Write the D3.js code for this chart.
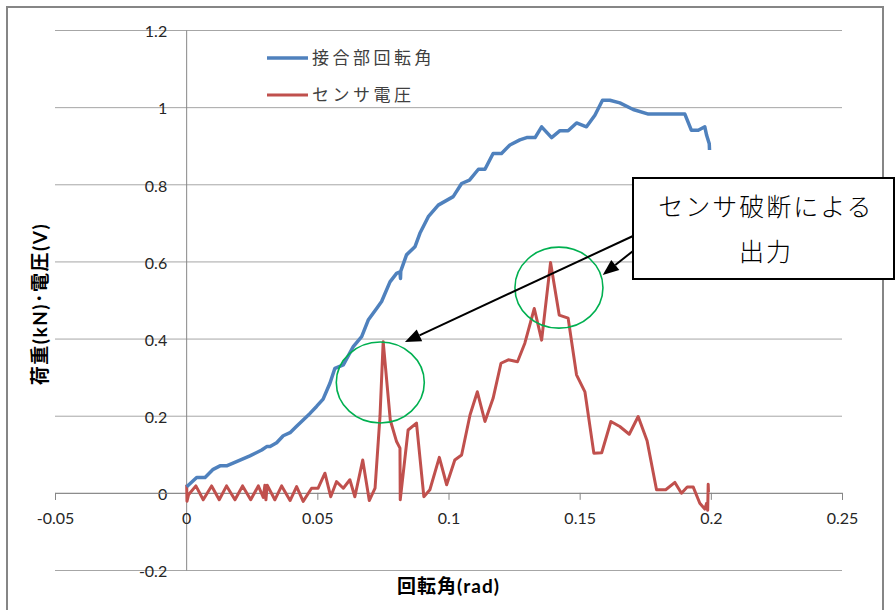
<!DOCTYPE html>
<html>
<head>
<meta charset="utf-8">
<script src="https://cdn.jsdelivr.net/npm/d3@7"></script>
<style>
  html, body { margin: 0; padding: 0; background: #fff; }
  svg { display: block; }
</style>
</head>
<body>
<svg id="chart" width="896" height="610"></svg>
<script>
// 接合部回転角 (blue) : rotation angle (rad) vs value
const jointX = [0.0002, 0.004, 0.0072, 0.0103, 0.0129, 0.0154, 0.0192, 0.0243, 0.0288, 0.0307, 0.032,
  0.0345, 0.037, 0.0396, 0.042, 0.0446, 0.0472, 0.0497, 0.0522, 0.0548, 0.0567, 0.0599, 0.0637, 0.0669,
  0.0694, 0.0726, 0.0745, 0.0777, 0.0802, 0.0815, 0.0817, 0.0818, 0.084, 0.0872, 0.0891, 0.0923, 0.0961,
  0.1018, 0.105, 0.108, 0.1114, 0.1139, 0.117, 0.1202, 0.1234, 0.1272, 0.1298, 0.133, 0.1355, 0.1393,
  0.1425, 0.1456, 0.1488, 0.1526, 0.1558, 0.1587, 0.1615, 0.1653, 0.1704, 0.1762, 0.1901, 0.1926,
  0.1952, 0.1977, 0.1984, 0.1994, 0.1995];
const jointY = [0.016, 0.040, 0.040, 0.061, 0.070, 0.070, 0.081, 0.096, 0.111, 0.120, 0.120,
  0.130, 0.148, 0.156, 0.172, 0.189, 0.206, 0.224, 0.243, 0.284, 0.323, 0.332, 0.379, 0.405,
  0.448, 0.478, 0.496, 0.547, 0.569, 0.573, 0.556, 0.575, 0.617, 0.638, 0.673, 0.716, 0.746,
  0.768, 0.802, 0.811, 0.839, 0.839, 0.880, 0.880, 0.902, 0.915, 0.921, 0.921, 0.949, 0.921,
  0.939, 0.939, 0.959, 0.949, 0.979, 1.018, 1.018, 1.011, 0.994, 0.982, 0.982, 0.940,
  0.940, 0.949, 0.927, 0.905, 0.889];

// センサ電圧 (red)
const sensorX = [0.0002, 0.0003, 0.0009, 0.0037, 0.0065, 0.0097, 0.0126, 0.0154, 0.0186, 0.0215,
  0.0246, 0.0275, 0.0294, 0.030, 0.0304, 0.0309, 0.0338, 0.0364, 0.0396, 0.0421, 0.0446, 0.0478,
  0.0503, 0.0529, 0.0551, 0.0573, 0.0599, 0.0624, 0.0643, 0.0673, 0.0698, 0.072, 0.0739, 0.0751,
  0.0778, 0.0802, 0.0815, 0.0816, 0.0846, 0.0878, 0.0906, 0.0929, 0.0965, 0.0993, 0.1024, 0.105,
  0.1082, 0.111, 0.1139, 0.117, 0.12, 0.1228, 0.1263, 0.1291, 0.1327, 0.1355, 0.1389, 0.1422,
  0.1456, 0.1488, 0.152, 0.1554, 0.1584, 0.1619, 0.1653, 0.1689, 0.1723, 0.1757, 0.1793, 0.1828,
  0.1863, 0.1888, 0.191, 0.1933, 0.1958, 0.1977, 0.1984, 0.1988, 0.1990, 0.1991];
const sensorY = [0.021, -0.022, -0.005, 0.018, -0.018, 0.018, -0.018, 0.018, -0.018, 0.018,
  -0.018, 0.018, -0.012, 0.020, -0.018, 0.020, -0.018, 0.018, -0.020, 0.016, -0.022, 0.012,
  0.012, 0.051, -0.010, 0.029, 0.012, 0.034, -0.010, 0.085, -0.020, 0.012, 0.200, 0.392,
  0.189, 0.133, 0.116, -0.018, 0.163, 0.181, -0.010, 0.008, 0.092, 0.021, 0.085, 0.098,
  0.202, 0.262, 0.185, 0.245, 0.336, 0.345, 0.340, 0.388, 0.478, 0.396, 0.597, 0.461,
  0.453, 0.306, 0.262, 0.103, 0.104, 0.185, 0.172, 0.152, 0.198, 0.135, 0.008, 0.008,
  0.027, -0.001, 0.015, 0.015, -0.027, -0.042, -0.027, -0.045, 0.022, 0.002];

const xTicks = [-0.05, 0, 0.05, 0.1, 0.15, 0.2, 0.25];
const yTicks = [-0.2, 0, 0.2, 0.4, 0.6, 0.8, 1, 1.2];
const seriesNames = ["接合部回転角", "センサ電圧"];
const seriesColors = ["#4f81bd", "#c0504d"];
const xTitle = "回転角(rad)";
const yTitle = "荷重(kN)･電圧(V)";
const calloutLines = ["センサ破断による", "出力"];
// highlighted regions (data coords) and arrow targets
const highlightX = [0.0740, 0.1421];
const highlightY = [0.286, 0.532];
const arrowTipX = [0.0834, 0.1588];
const arrowTipY = [0.391, 0.565];

const svg = d3.select("#chart");
const latin = "Lato, 'Noto Sans CJK JP', sans-serif";
const jp = "'Noto Sans CJK JP', Lato, sans-serif";
const tickFmt = d => String(d);   // plain hyphen-minus, e.g. "-0.05"

const x = d3.scaleLinear().domain([-0.05, 0.25]).range([55, 842]);
const y = d3.scaleLinear().domain([-0.2, 1.2]).range([570, 30]);

// chart frame
svg.append("rect").attr("x", 7).attr("y", 7).attr("width", 876).attr("height", 620)
  .attr("fill", "#fff").attr("stroke", "#868686").attr("stroke-width", 2);

// horizontal gridlines
svg.append("g").attr("transform", `translate(${x.range()[0]},0)`)
  .call(d3.axisRight(y).tickValues(yTicks).tickSize(x.range()[1] - x.range()[0]).tickFormat(""))
  .call(g => g.select(".domain").remove())
  .call(g => g.selectAll("line").attr("stroke", "#a6a6a6").attr("stroke-width", 1));

// y axis at x = 0
const yAxis = svg.append("g").attr("transform", `translate(${x(0)},0)`)
  .call(d3.axisLeft(y).tickValues(yTicks).tickSize(0).tickPadding(19).tickFormat(tickFmt));
yAxis.select(".domain").attr("stroke", "#868686");
yAxis.selectAll("text").attr("font-family", latin).attr("font-size", 16).attr("fill", "#262626")
  .attr("dy", "0.42em");

// x axis along y = 0
const xAxis = svg.append("g").attr("transform", `translate(0,${y(0)})`)
  .call(d3.axisBottom(x).tickValues(xTicks).tickSize(7).tickPadding(13).tickFormat(tickFmt));
xAxis.select(".domain").attr("stroke", "#868686");
xAxis.selectAll("line").attr("stroke", "#868686");
xAxis.selectAll("text").attr("font-family", latin).attr("font-size", 16).attr("fill", "#262626");

// axis titles
svg.append("text").attr("x", (x.range()[0] + x.range()[1]) / 2).attr("y", 593)
  .attr("text-anchor", "middle").attr("font-family", latin).attr("font-size", 19)
  .attr("letter-spacing", 1).attr("font-weight", "bold").attr("fill", "#000").text(xTitle);
svg.append("text").attr("transform", `translate(47,${(y.range()[0] + y.range()[1]) / 2 + 4}) rotate(-90)`)
  .attr("text-anchor", "middle").attr("font-family", latin).attr("font-size", 19)
  .attr("letter-spacing", 1.5).attr("font-weight", "bold").attr("fill", "#000").text(yTitle);

// series
const line = d3.line().x(d => x(d[0])).y(d => y(d[1]));
const series = [
  d3.zip(jointX, jointY),
  d3.zip(sensorX, sensorY)
];
svg.append("path").datum(series[1]).attr("d", line).attr("fill", "none")
  .attr("stroke", seriesColors[1]).attr("stroke-width", 3).attr("stroke-linejoin", "round");
svg.append("path").datum(series[0]).attr("d", line).attr("fill", "none")
  .attr("stroke", seriesColors[0]).attr("stroke-width", 3.5).attr("stroke-linejoin", "round");

// legend
const legend = svg.append("g");
seriesNames.forEach((name, i) => {
  const ly = 58 + i * 37;
  legend.append("line").attr("x1", 267).attr("x2", 308).attr("y1", ly).attr("y2", ly)
    .attr("stroke", seriesColors[i]).attr("stroke-width", i === 0 ? 3.5 : 3);
  legend.append("text").attr("x", 312).attr("y", ly).attr("dy", "0.36em")
    .attr("font-family", jp).attr("font-size", 17).attr("letter-spacing", 3.5)
    .attr("fill", "#404040").text(name);
});

// highlight ellipses
highlightX.forEach((hx, i) => {
  svg.append("ellipse").attr("cx", x(hx)).attr("cy", y(highlightY[i]))
    .attr("rx", 44).attr("ry", 40.5).attr("fill", "none")
    .attr("stroke", "#00b050").attr("stroke-width", 1.6);
});

// callout box
svg.append("rect").attr("x", 633).attr("y", 178).attr("width", 261).attr("height", 101)
  .attr("fill", "#fff").attr("stroke", "#000").attr("stroke-width", 2);
calloutLines.forEach((t, i) => {
  svg.append("text").attr("x", 766).attr("y", 216 + i * 45)
    .attr("text-anchor", "middle").attr("font-family", jp).attr("font-size", 25)
    .attr("font-weight", 300).attr("letter-spacing", 2).attr("fill", "#000").text(t);
});

// arrows from the callout
const arrowStartY = [236, 251];
arrowTipX.forEach((ax, i) => {
  const x0 = 633, y0 = arrowStartY[i];
  const x1 = x(ax), y1 = y(arrowTipY[i]);
  const ang = Math.atan2(y1 - y0, x1 - x0);
  const len = 16, half = 6.5;
  const bx = x1 - len * Math.cos(ang), by = y1 - len * Math.sin(ang);
  svg.append("line").attr("x1", x0).attr("y1", y0).attr("x2", bx).attr("y2", by)
    .attr("stroke", "#000").attr("stroke-width", 2);
  const px = -Math.sin(ang) * half, py = Math.cos(ang) * half;
  svg.append("path")
    .attr("d", `M${x1},${y1}L${bx + px},${by + py}L${bx - px},${by - py}Z`)
    .attr("fill", "#000");
});
</script>
</body>
</html>
